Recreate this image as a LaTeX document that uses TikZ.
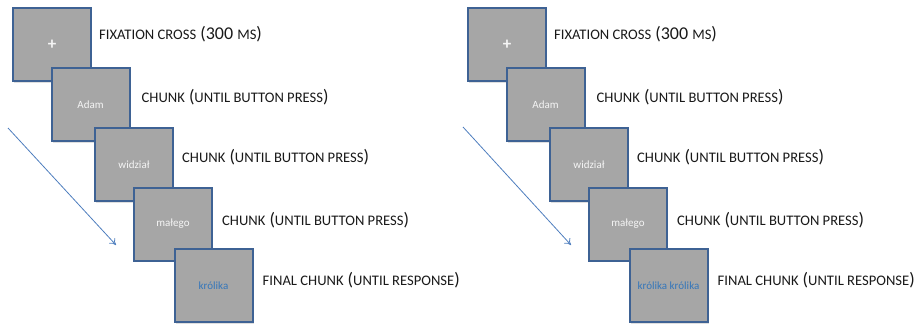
\documentclass[tikz,border=0pt]{standalone}
\usepackage{fontspec}
\setmainfont{Carlito}
\usetikzlibrary{positioning, shadows, arrows.meta}
\definecolor{screenline}{RGB}{62, 98, 148}
\definecolor{screenfill}{RGB}{166, 166, 166}
\definecolor{wordblue}{RGB}{52, 118, 186}
\definecolor{arrowblue}{RGB}{78, 126, 190}
\newcommand{\capsc}[1]{{\fontsize{14.6pt}{16pt}\selectfont #1}}

\begin{document}
\begin{tikzpicture}[
    x=1pt, y=-1pt,
    % Styles embedded for portability
    screen/.style={rectangle, minimum width=78pt, minimum height=73pt, inner sep=0pt, draw=screenline, line width=2pt, fill=screenfill, text=white!92!gray, font=\fontsize{11pt}{13pt}\selectfont, drop shadow={shadow xshift=1.2pt, shadow yshift=-1.5pt, opacity=0.25}},
    steplabel/.style={inner sep=0pt, anchor=west, text=black!90, font=\fontsize{18pt}{20pt}\selectfont},
    timeline/.style={draw=arrowblue, line width=0.8pt, -{To[length=6pt, width=8pt]}}
]
    \useasboundingbox (0,0) rectangle (920,327);

    % --- LEFT TRIAL ---
    \node [screen, font=\fontsize{17pt}{19pt}\selectfont\bfseries] (fixL) at (52,44.5) {+};
    \node [screen] (adamL) at (90.5,104.5) {Adam};
    \node [screen] (widzL) at (134,164.5) {widział};
    \node [screen] (maleL) at (173,224) {małego};
    \node [screen, text=wordblue] (krolL) at (213.5,285.5) {królika};

    \node [steplabel, right=7pt of fixL, yshift=10pt] (tfixL) {\capsc{FIXATION CROSS} (300 \capsc{MS})};
    \node [steplabel, right=11pt of adamL, yshift=7pt] (tadamL) {\capsc{CHUNK} (\capsc{UNTIL BUTTON PRESS})};
    \node [steplabel, right=8pt of widzL, yshift=7pt] (twidzL) {\capsc{CHUNK} (\capsc{UNTIL BUTTON PRESS})};
    \node [steplabel, right=9pt of maleL, yshift=4pt] (tmaleL) {\capsc{CHUNK} (\capsc{UNTIL BUTTON PRESS})};
    \node [steplabel, right=9pt of krolL, yshift=5pt] (tkrolL) {\capsc{FINAL CHUNK} (\capsc{UNTIL RESPONSE})};

    \coordinate (startL) at (8,128);
    \coordinate (endL) at (116,245);
    \draw [timeline] (startL) -- (endL);

    % --- RIGHT TRIAL ---
    \node [screen, font=\fontsize{17pt}{19pt}\selectfont\bfseries] (fixR) at (507,44.5) {+};
    \node [screen] (adamR) at (545.5,104.5) {Adam};
    \node [screen] (widzR) at (589,164.5) {widział};
    \node [screen] (maleR) at (628,224) {małego};
    \node [screen, text=wordblue] (krolR) at (668.5,285.5) {królika królika};

    \node [steplabel, right=7pt of fixR, yshift=10pt] (tfixR) {\capsc{FIXATION CROSS} (300 \capsc{MS})};
    \node [steplabel, right=11pt of adamR, yshift=7pt] (tadamR) {\capsc{CHUNK} (\capsc{UNTIL BUTTON PRESS})};
    \node [steplabel, right=8pt of widzR, yshift=7pt] (twidzR) {\capsc{CHUNK} (\capsc{UNTIL BUTTON PRESS})};
    \node [steplabel, right=9pt of maleR, yshift=4pt] (tmaleR) {\capsc{CHUNK} (\capsc{UNTIL BUTTON PRESS})};
    \node [steplabel, right=9pt of krolR, yshift=5pt] (tkrolR) {\capsc{FINAL CHUNK} (\capsc{UNTIL RESPONSE})};

    \coordinate (startR) at (463,127);
    \coordinate (endR) at (571,245);
    \draw [timeline] (startR) -- (endR);

\end{tikzpicture}
\end{document}
